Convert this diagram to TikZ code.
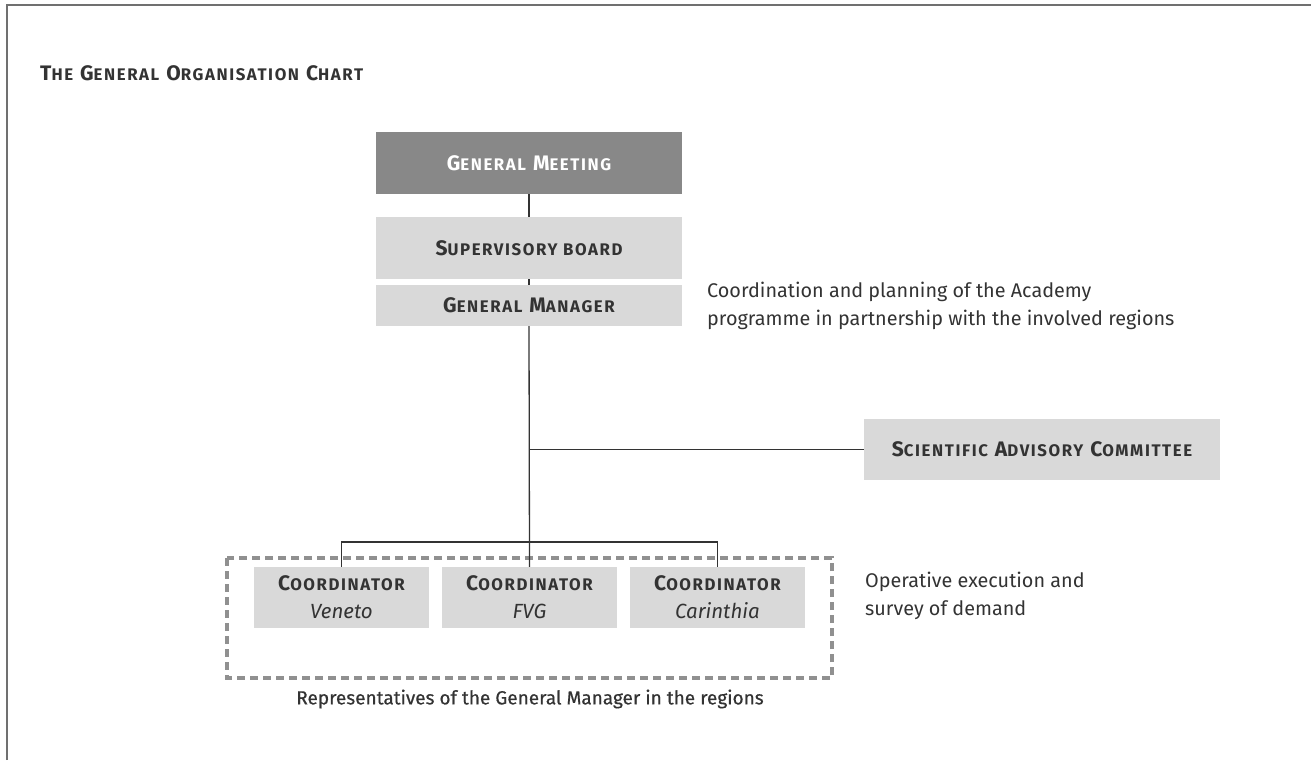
\documentclass[tikz,border=0pt]{standalone}
\usepackage{fontspec}
\setmainfont{Fira Sans}
\makeatletter
\newcommand\lc[1]{{\fontsize{\fpeval{0.8*\f@size}}{\f@baselineskip}\selectfont #1}}
\makeatother
\definecolor{txt}{HTML}{333333}
\definecolor{darkbox}{HTML}{888888}
\definecolor{lightbox}{HTML}{D9D9D9}
\definecolor{frame}{HTML}{707070}
\definecolor{dash}{HTML}{909090}
\begin{document}
\begin{tikzpicture}[x=1pt,y=-1pt,
  boxlabel/.style={font=\fontsize{21}{28}\selectfont\bfseries\addfontfeature{LetterSpace=9.5}, text=txt},
  darkbox/.style={boxlabel, fill=darkbox, text=white, draw=none, inner sep=0pt, minimum width=306pt, minimum height=62pt},
  lightbox/.style={boxlabel, fill=lightbox, draw=none, inner sep=0pt},
  coordbox/.style={lightbox, minimum width=175pt, minimum height=61pt, align=center},
  link/.style={draw=txt, line width=1.3pt},
  note/.style={font=\fontsize{19.8}{28}\selectfont, text=txt, align=left, anchor=north west, inner sep=0pt},
  regionbox/.style={draw=dash, line width=3.2pt, dash pattern=on 8pt off 5pt}
]
\newcommand\region[1]{{\mdseries\itshape\fontsize{20.5}{28}\selectfont\addfontfeature{LetterSpace=0}#1}}
\useasboundingbox (0,0) rectangle (1311,760);
\draw[frame, line width=2pt] (7,760) -- (7,5) -- (1311,5);

\node[boxlabel, anchor=west, inner sep=0pt] (title) at (40,73) {T\lc{HE} G\lc{ENERAL} O\lc{RGANISATION} C\lc{HART}};

\node[darkbox] (gm) at (529,163) {G\lc{ENERAL} M\lc{EETING}};
\node[lightbox, minimum width=306pt, minimum height=62pt] (sb) at (529,248) {S\lc{UPERVISORY BOARD}};
\node[lightbox, minimum width=306pt, minimum height=41pt] (mgr) at (529,305.5) {G\lc{ENERAL} M\lc{ANAGER}};

\node[note] (coordnote) at (707,282) {Coordination and planning of the Academy\\programme in partnership with the involved regions};

\node[lightbox, minimum width=356pt, minimum height=61pt] (sac) at (1042,449.5) {S\lc{CIENTIFIC} A\lc{DVISORY} C\lc{OMMITTEE}};

\draw[regionbox] (227,558) rectangle (832,678);

\node[coordbox] (ven) at (341.5,597.5) {C\lc{OORDINATOR}\\\region{Veneto}};
\node[coordbox] (fvg) at (529.5,597.5) {C\lc{OORDINATOR}\\\region{FVG}};
\node[coordbox] (car) at (717.5,597.5) {C\lc{OORDINATOR}\\\region{Carinthia}};

\node[note] (opnote) at (865,572) {Operative execution and\\survey of demand};

\node[font=\fontsize{19}{24}\selectfont\addfontfeature{FakeBold=0.5}, text=txt, inner sep=0pt] (caption) at (530,699) {Representatives of the General Manager in the regions};

\coordinate (jsac) at (529.5,449.5);
\coordinate (jbr) at (529.5,542);

\draw[link] (gm.south) -- (sb.north);
\draw[link] (sb.south) -- (mgr.north);
\draw[link] (mgr.south) -- (fvg.north);
\draw[link] (jsac) -- (sac.west);
\draw[link] (ven.north) |- (jbr) -| (car.north);
\end{tikzpicture}
\end{document}
